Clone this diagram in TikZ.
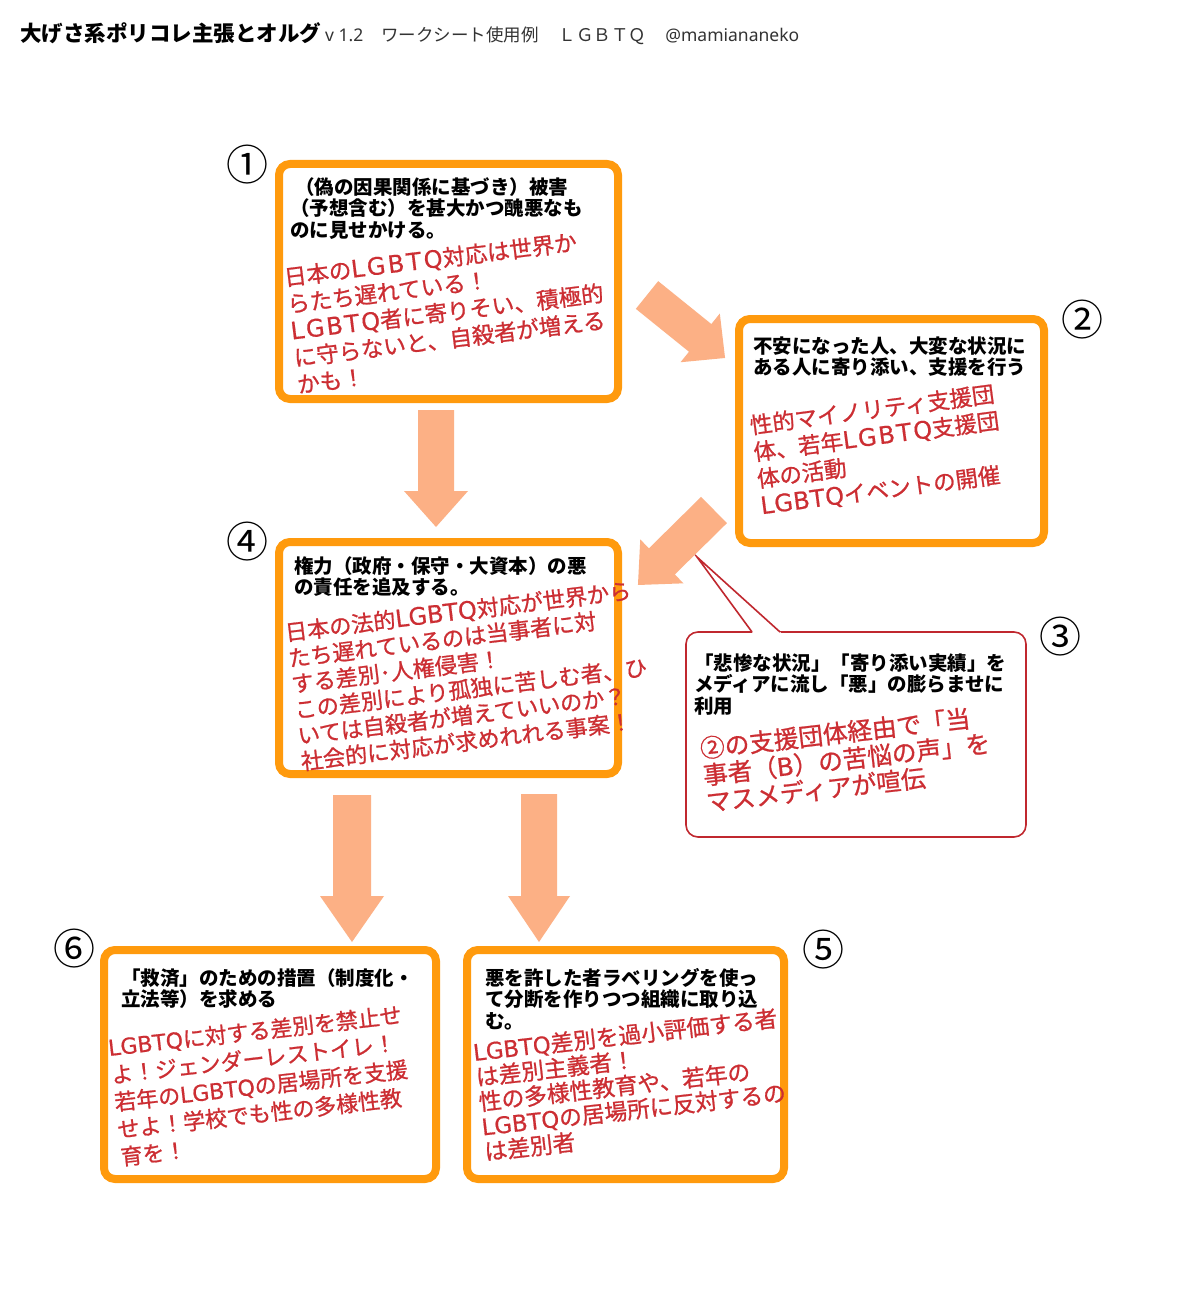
\documentclass[tikz,border=0pt]{standalone}
\usepackage{fontspec}
\setmainfont{Noto Sans CJK JP}
\newfontfamily\redfont[FakeBold=0.9]{Noto Sans CJK JP}
\newfontfamily\latfont[FakeBold=0.6]{DejaVu Sans}
\newfontfamily\latreg{Noto Sans}
\newcommand\LG{{\latfont LGBTQ}}
\newcommand\LGw[1]{{\latfont\fontsize{24}{27}\selectfont\makebox[#1][s]{L\hfill G\hfill B\hfill T\hfill Q}}}
\definecolor{boxorange}{HTML}{FF9A0D}
\definecolor{arrowfill}{HTML}{FCB085}
\definecolor{redtext}{HTML}{CC2E33}
\definecolor{calloutred}{HTML}{C0282F}
\definecolor{subgray}{HTML}{333333}
\newcommand\mlines[1]{\vtop{\let\\\cr\halign{##\hfil\cr#1\crcr}}}
\tikzset{
  obox/.style={draw=boxorange, line width=8pt, rounded corners=11pt, fill=white, inner sep=0pt},
  cbox/.style={draw=calloutred, line width=1.6pt, rounded corners=12pt, fill=white, inner sep=0pt},
  blk/.style={anchor=base west, inner sep=0pt, text=black, font=\fontsize{19.5}{21.8}\selectfont\bfseries},
  redt/.style={anchor=base west, inner sep=0pt, text=redtext},
  num/.style={inner sep=0pt, font=\fontsize{42}{42}\selectfont},
  barrow/.style={fill=arrowfill, draw=none},
}
\begin{document}
\begin{tikzpicture}[x=1pt, y=-1pt]
\useasboundingbox (0,0) rectangle (1200,1308);
\fill[white] (0,0) rectangle (1200,1308);

% title
\node[anchor=base west, inner sep=0pt] (title) at (20,42)
  {{\fontsize{21.5}{24}\selectfont\bfseries 大げさ系ポリコレ主張とオルグ}\hspace{4pt}{\fontsize{17.5}{20}\selectfont\color{subgray}{\latreg v 1.2}\hspace{18pt}ワークシート使用例\hspace{20pt}ＬＧＢＴＱ\hspace{19pt}{\latreg @mamiananeko}}};

% boxes
\node[obox, minimum width=339pt, minimum height=235pt] (b1) at (448.5,281.5) {};
\node[obox, minimum width=305pt, minimum height=224pt] (b2) at (891.5,431) {};
\node[obox, minimum width=339pt, minimum height=232pt] (b4) at (448.5,658) {};
\node[obox, minimum width=332pt, minimum height=229pt] (b6) at (270,1064.5) {};
\node[obox, minimum width=317pt, minimum height=229pt] (b5) at (625.5,1064.5) {};
\node[cbox, minimum width=340pt, minimum height=205pt] (b3) at (856,734.5) {};

% callout tail
\coordinate (tailtip) at (697,557);
\fill[white] (tailtip) -- (753.5,634) -- (782.2,634) -- cycle;
\draw[calloutred, line width=1.6pt] (752,632) -- (tailtip) -- (780,632);

% block arrows
\begin{scope}[shift={(647,295)}, rotate=-38.9]
  \fill[barrow] (0,-17.8) -- (68.3,-17.8) -- (68.3,-31.3) -- (100.3,0) -- (68.3,31.3) -- (68.3,17.8) -- (0,17.8) -- cycle;
\end{scope}
\begin{scope}[shift={(714,510)}, rotate=-135.4]
  \fill[barrow] (0,-18.4) -- (73.2,-18.4) -- (73.2,-30.8) -- (106.8,0) -- (73.2,30.8) -- (73.2,18.4) -- (0,18.4) -- cycle;
\end{scope}
\fill[barrow] (418,410) -- (454,410) -- (454,491) -- (468,491) -- (436,527) -- (404,491) -- (418,491) -- cycle;
\fill[barrow] (333,795) -- (371,795) -- (371,896) -- (384,896) -- (352,942) -- (320,896) -- (333,896) -- cycle;
\fill[barrow] (521,794) -- (557,794) -- (557,896) -- (570,896) -- (539,942) -- (508,896) -- (521,896) -- cycle;

% circled numbers
\node[num] (n1) at (247,165) {①};
\node[num] (n2) at (1082,320) {②};
\node[num] (n3) at (1060,637) {③};
\node[num] (n4) at (247,542) {④};
\node[num] (n5) at (823,950) {⑤};
\node[num] (n6) at (74,949) {⑥};

% black texts
\node[blk] (t1) at (290,194) {\mlines{\hspace{5pt}（偽の因果関係に基づき）被害\\（予想含む）を甚大かつ醜悪なも\\のに見せかける。}};
\node[blk] (t2) at (753,353) {\mlines{不安になった人、大変な状況に\\ある人に寄り添い、支援を行う}};
\node[blk] (t4) at (294,573) {\mlines{権力（政府・保守・大資本）の悪\\の責任を追及する。}};
\node[blk] (t3) at (694,670) {\mlines{「悲惨な状況」「寄り添い実績」を\\メディアに流し「悪」の膨らませに\\利用}};
\node[blk] (t6) at (121,985) {\mlines{「救済」のための措置（制度化・\\立法等）を求める}};
\node[blk] (t5) at (485,985) {\mlines{悪を許した者ラベリングを使っ\\て分断を作りつつ組織に取り込\\む。}};

% red texts
\node[redt, rotate=7, font=\redfont\fontsize{22.5}{27}\selectfont] (r1) at (285,286)
  {\mlines{日本の\LGw{92pt}対応は世界か\\らたち遅れている！\\\LGw{90pt}者に寄りそい、積極的\\に守らないと、自殺者が増える\\かも！}};
\node[redt, rotate=7.5, font=\redfont\fontsize{22.5}{27}\selectfont] (r2) at (751,434)
  {\mlines{性的マイノリティ支援団\\体、若年\LGw{90pt}支援団\\体の活動\\\LGw{84pt}イベントの開催}};
\node[redt, rotate=7, font=\redfont\fontsize{22.2}{26}\selectfont] (r4) at (286,641)
  {\mlines{日本の法的\LGw{82pt}対応が世界から\\たち遅れているのは当事者に対\\する差別･人権侵害！\\この差別により孤独に苦しむ者、ひ\\いては自殺者が増えていいのか？\\社会的に対応が求めれれる事案！}};
\node[redt, rotate=6.5, font=\redfont\fontsize{24.7}{27}\selectfont] (r3) at (701,758)
  {\mlines{②の支援団体経由で「当\\事者（{\latfont B}）の苦悩の声」を\\マスメディアが喧伝}};
\node[redt, rotate=6.5, font=\redfont\fontsize{22}{27.5}\selectfont] (r6) at (109,1056)
  {\mlines{\LG に対する差別を禁止せ\\よ！ジェンダーレストイレ！\\若年の\LG の居場所を支援\\せよ！学校でも性の多様性教\\育を！}};
\node[redt, rotate=6.5, font=\redfont\fontsize{22.8}{25}\selectfont] (r5) at (474,1061)
  {\mlines{\LG 差別を過小評価する者\\は差別主義者！\\性の多様性教育や、若年の\\\LG の居場所に反対するの\\は差別者}};
\end{tikzpicture}
\end{document}
